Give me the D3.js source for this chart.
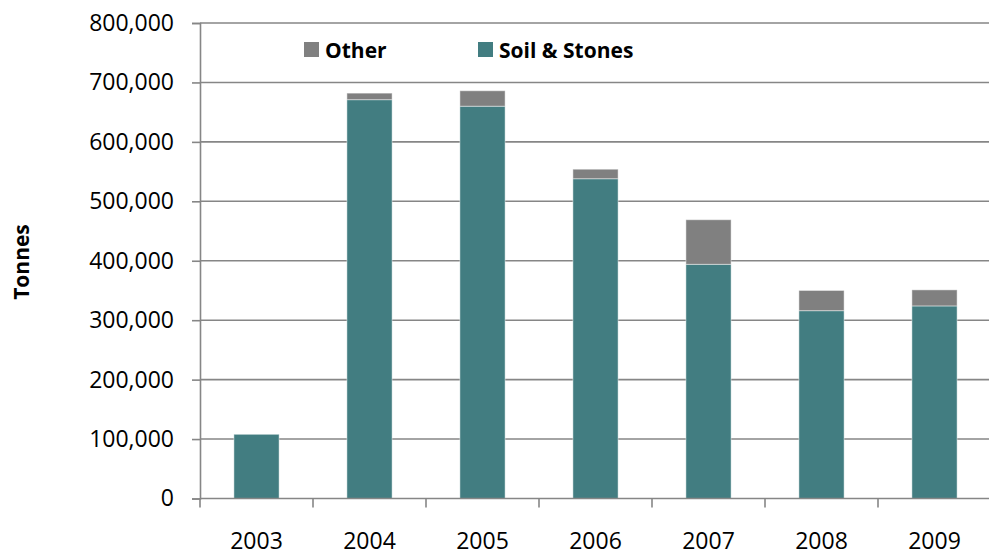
<!DOCTYPE html>
<html>
<head>
<meta charset="utf-8">
<script src="https://cdn.jsdelivr.net/npm/d3@7"></script>
<style>
  html, body { margin: 0; padding: 0; background: #ffffff; }
  svg { display: block; font-family: "Open Sans", "Liberation Sans", sans-serif; }
</style>
</head>
<body>
<svg id="chart" width="989" height="555"></svg>
<script>
// Tonnes by year, stacked: soil & stones at the base, other material on top
const years = ["2003", "2004", "2005", "2006", "2007", "2008", "2009"];
const soilStones = [108000, 671000, 660000, 538000, 394000, 316000, 324000];
const other = [0, 11000, 26000, 16000, 75000, 34000, 27000];
const yTicks = [0, 100000, 200000, 300000, 400000, 500000, 600000, 700000, 800000];
const seriesNames = ["Other", "Soil & Stones"];
const seriesColors = { "Soil & Stones": "#427d81", "Other": "#808080" };

const svg = d3.select("#chart");
const plot = { left: 200, right: 991, top: 23, bottom: 498.5 };

const x = d3.scaleBand()
  .domain(years)
  .range([plot.left, plot.right])
  .paddingInner(0.6)
  .paddingOuter(0.3);

const y = d3.scaleLinear()
  .domain([0, 800000])
  .range([plot.bottom, plot.top]);

const rows = years.map((yr, i) => ({ year: yr, "Soil & Stones": soilStones[i], "Other": other[i] }));
const stack = d3.stack().keys(["Soil & Stones", "Other"]);
const layers = stack(rows);

// horizontal gridlines
svg.append("g")
  .selectAll("line")
  .data(yTicks.filter(d => d > 0))
  .join("line")
  .attr("x1", plot.left)
  .attr("x2", plot.right)
  .attr("y1", d => y(d))
  .attr("y2", d => y(d))
  .attr("stroke", "#868686")
  .attr("stroke-width", 1.6);

// stacked bars
svg.append("g")
  .selectAll("g")
  .data(layers)
  .join("g")
  .attr("fill", d => seriesColors[d.key])
  .selectAll("rect")
  .data(d => d.filter(p => p[1] - p[0] > 0))
  .join("rect")
  .attr("x", d => x(d.data.year))
  .attr("width", x.bandwidth())
  .attr("y", d => y(d[1]))
  .attr("height", d => y(d[0]) - y(d[1]))
  .attr("stroke", "#ffffff")
  .attr("stroke-opacity", 0.45)
  .attr("stroke-width", 1);

// y axis
const yAxis = d3.axisLeft(y)
  .tickValues(yTicks)
  .tickFormat(d3.format(","))
  .tickSize(8)
  .tickPadding(18);
const gy = svg.append("g")
  .attr("transform", `translate(${plot.left},0)`)
  .call(yAxis);
gy.select(".domain").attr("stroke", "#868686").attr("stroke-width", 1.6);
gy.selectAll(".tick line").attr("stroke", "#868686").attr("stroke-width", 1.6);
gy.selectAll(".tick text")
  .attr("fill", "#000000")
  .style("font-size", "23px")
  .style("font-family", "'Open Sans', sans-serif");

// x axis with ticks at category boundaries
const gx = svg.append("g")
  .attr("transform", `translate(0,${plot.bottom})`);
gx.append("line")
  .attr("x1", plot.left)
  .attr("x2", plot.right)
  .attr("stroke", "#868686")
  .attr("stroke-width", 1.6);
const step = x.step();
const boundaries = d3.range(years.length + 1).map(i => plot.left + i * step);
gx.selectAll("line.bound")
  .data(boundaries)
  .join("line")
  .attr("class", "bound")
  .attr("x1", d => d)
  .attr("x2", d => d)
  .attr("y1", 0)
  .attr("y2", 9)
  .attr("stroke", "#868686")
  .attr("stroke-width", 1.6);
gx.selectAll("text")
  .data(years)
  .join("text")
  .attr("x", d => x(d) + x.bandwidth() / 2)
  .attr("y", 50)
  .attr("text-anchor", "middle")
  .attr("fill", "#000000")
  .style("font-size", "23px")
  .text(d => d);

// y axis title
svg.append("text")
  .attr("transform", `translate(29,262) rotate(-90)`)
  .attr("text-anchor", "middle")
  .attr("fill", "#000000")
  .style("font-size", "21px")
  .style("font-weight", "bold")
  .text("Tonnes");

// legend
const legendPos = { "Other": 304, "Soil & Stones": 478 };
const lg = svg.append("g");
seriesNames.forEach(name => {
  const gx0 = legendPos[name];
  lg.append("rect")
    .attr("x", gx0)
    .attr("y", 42)
    .attr("width", 15)
    .attr("height", 15)
    .attr("fill", seriesColors[name]);
  lg.append("text")
    .attr("x", gx0 + 21)
    .attr("y", 57.5)
    .attr("fill", "#000000")
    .style("font-size", "21px")
    .style("font-weight", "bold")
    .text(name);
});
</script>
</body>
</html>
